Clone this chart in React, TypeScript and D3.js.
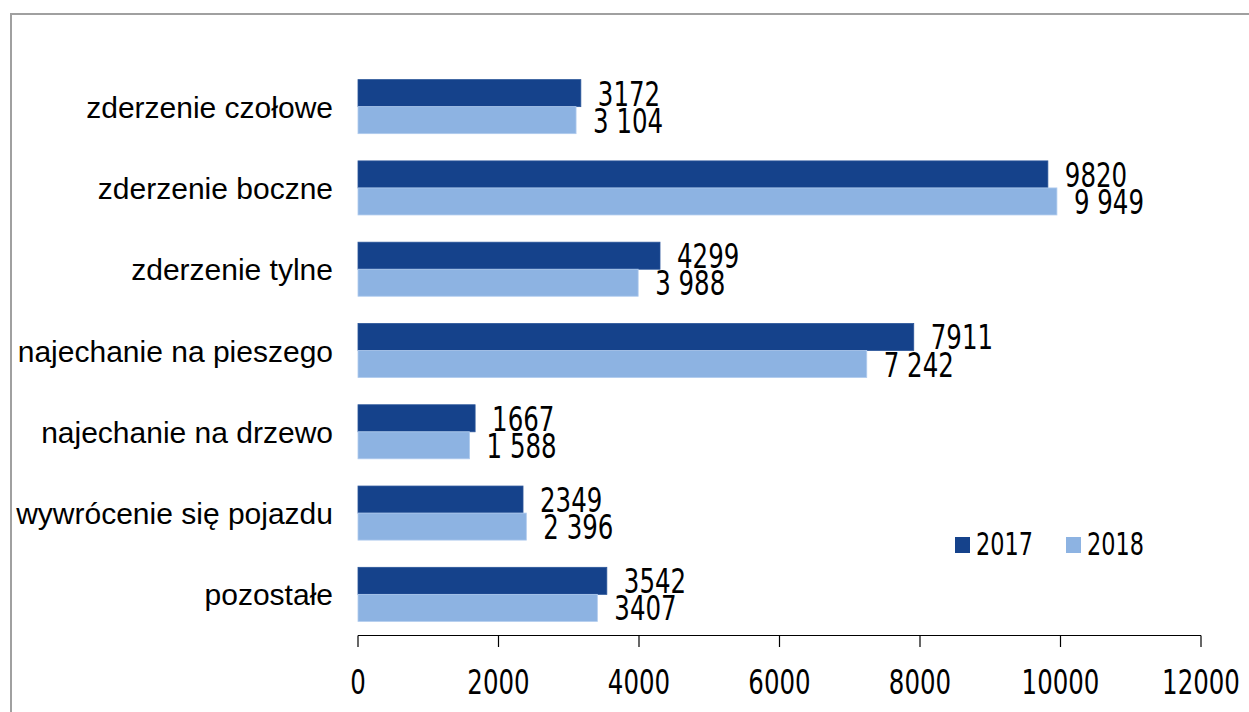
import React from "react";
import * as d3 from "d3";

const categories = [
  "zderzenie czołowe",
  "zderzenie boczne",
  "zderzenie tylne",
  "najechanie na pieszego",
  "najechanie na drzewo",
  "wywrócenie się pojazdu",
  "pozostałe",
];
const values2017 = [3172, 9820, 4299, 7911, 1667, 2349, 3542];
const values2018 = [3104, 9949, 3988, 7242, 1588, 2396, 3407];
const labels2017 = ["3172", "9820", "4299", "7911", "1667", "2349", "3542"];
const labels2018 = ["3 104", "9 949", "3 988", "7 242", "1 588", "2 396", "3407"];
const seriesNames = ["2017", "2018"];
const seriesColors = ["#15428b", "#8db3e2"];
const xTicks = [0, 2000, 4000, 6000, 8000, 10000, 12000];

const W = 1249;
const H = 712;
const NUM_FONT = "'DejaVu Sans', Verdana, sans-serif";
const CAT_FONT = "'Liberation Sans', Arial, sans-serif";
const SX = 0.72;

export default function App() {
  const x = d3.scaleLinear().domain([0, 12000]).range([358, 1201]);
  const y = d3
    .scaleBand<string>()
    .domain(categories)
    .range([66, 635])
    .paddingInner(0.335)
    .paddingOuter(0.1675);
  const sub = d3.scaleBand<string>().domain(seriesNames).range([0, y.bandwidth()]);
  const series = [
    { name: seriesNames[0], values: values2017, labels: labels2017, color: seriesColors[0] },
    { name: seriesNames[1], values: values2018, labels: labels2018, color: seriesColors[1] },
  ];
  const axisY = 635.5;

  return (
    <svg
      width={W}
      height={H}
      style={{ position: "absolute", left: 0, top: 0, background: "#fff" }}
    >
      <rect x={11} y={14} width={1400} height={900} fill="none" stroke="#a0a0a0" strokeWidth={2} />
      {/* bars */}
      {series.map((s) =>
        categories.map((c, i) => {
          const y0 = (y(c) as number) + (sub(s.name) as number);
          return (
            <rect
              key={s.name + c}
              x={x(0)}
              y={y0}
              width={x(s.values[i]) - x(0)}
              height={sub.bandwidth()}
              fill={s.color}
              stroke={s.name === "2017" ? "#2a5599" : "#b0cbee"}
              strokeWidth={0.8}
            />
          );
        })
      )}
      {/* value labels */}
      {series.map((s) =>
        categories.map((c, i) => {
          const cy = (y(c) as number) + (sub(s.name) as number) + sub.bandwidth() / 2;
          return (
            <text
              key={"l" + s.name + c}
              transform={`translate(${x(s.values[i]) + 17},${cy + 12.5}) scale(${SX},1)`}
              fontFamily={NUM_FONT}
              fontSize={34}
              fill="#000"
            >
              {s.labels[i]}
            </text>
          );
        })
      )}
      {/* category labels */}
      {categories.map((c) => (
        <text
          key={"c" + c}
          x={333}
          y={(y(c) as number) + y.bandwidth() / 2 + 11}
          textAnchor="end"
          fontFamily={CAT_FONT}
          fontSize={30}
          fill="#000"
        >
          {c}
        </text>
      ))}
      {/* x axis */}
      <line x1={x(0)} x2={x(12000)} y1={axisY} y2={axisY} stroke="#000" strokeWidth={1.2} />
      {xTicks.map((t) => (
        <g key={"t" + t}>
          <line x1={x(t)} x2={x(t)} y1={axisY} y2={647} stroke="#000" strokeWidth={1.2} />
          <text
            transform={`translate(${x(t)},${694}) scale(${SX},1)`}
            textAnchor="middle"
            fontFamily={NUM_FONT}
            fontSize={34}
            fill="#000"
          >
            {t}
          </text>
        </g>
      ))}
      {/* legend */}
      {series.map((s, i) => {
        const lx = 955 + i * 111;
        return (
          <g key={"lg" + s.name}>
            <rect x={lx} y={537} width={15} height={16} fill={s.color} />
            <text
              transform={`translate(${lx + 21},555) scale(0.7,1)`}
              fontFamily={NUM_FONT}
              fontSize={32}
              fill="#000"
            >
              {s.name}
            </text>
          </g>
        );
      })}
    </svg>
  );
}
